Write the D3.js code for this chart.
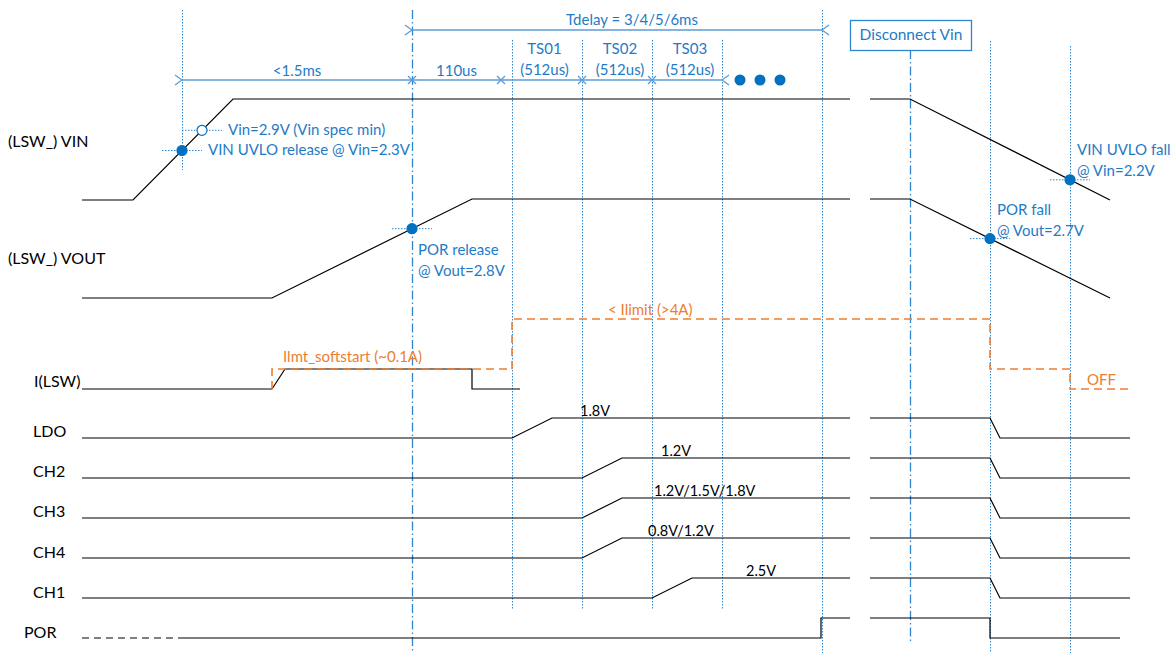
<!DOCTYPE html>
<html><head><meta charset="utf-8">
<script src="https://cdn.jsdelivr.net/npm/d3@7"></script>
<style>
body{margin:0;background:#fff;}
svg{display:block;font-family:Lato,"Noto Sans",sans-serif;}
</style>
</head><body>
<svg id="chart" width="1174" height="653"></svg>
<script>
// ================= DATA =================
// signal names (row labels)
const signalNames = ["(LSW_) VIN","(LSW_) VOUT","I(LSW)","LDO","CH2","CH3","CH4","CH1","POR"];
// waveforms: arrays of segments; each point = [time unit, level (0 low .. 1 high)]
const vinWave  = [[[0,0],[5.1,0],[15.1,1],[76.8,1]], [[78.8,1],[82.8,1],[102.8,0]]];
const voutWave = [[[0,0],[19,0],[39,1],[76.8,1]], [[78.8,1],[82.8,1],[102.8,0]]];
const ilswWave = [[[0,0],[19,0],[20.3,1],[39,1],[39,0],[43.8,0]]];
const ilimWave = [[[19,0],[19,1],[43,1],[43,3.5],[90.8,3.5],[90.8,1],[98.8,1],[98.8,0],[104.8,0]]];
const ldoWave  = [[[0,0],[43,0],[47,1],[76.8,1]], [[78.8,1],[90.8,1],[91.8,0],[104.8,0]]];
const ch2Wave  = [[[0,0],[50,0],[54,1],[76.8,1]], [[78.8,1],[90.8,1],[91.8,0],[104.8,0]]];
const ch3Wave  = [[[0,0],[50,0],[54,1],[76.8,1]], [[78.8,1],[90.8,1],[91.8,0],[104.8,0]]];
const ch4Wave  = [[[0,0],[50,0],[54,1],[76.8,1]], [[78.8,1],[90.8,1],[91.8,0],[104.8,0]]];
const ch1Wave  = [[[0,0],[57,0],[61,1],[76.8,1]], [[78.8,1],[90.8,1],[91.8,0],[104.8,0]]];
const porDashed = [[[0,0],[10.3,0]]];
const porWave  = [[[10.3,0],[73.9,0],[73.9,1],[76.8,1]], [[78.8,1],[90.8,1],[90.8,0],[103.8,0]]];
// output voltage labels
const voltLabels = ["1.8V","1.2V","1.2V/1.5V/1.8V","0.8V/1.2V","2.5V"];
const voltLabelTimes = [49.8,57.9,57.2,56.6,66.4];
// timing markers (time units)
const dottedTimes = [10,43,50,57,64,74,90.8,98.8];
const dashDotTimes = [33,82.8];
// top dimension arrows
const segTimes = [10,33,41.9,50,57,64];
const segLabels = ["<1.5ms","110us","TS01\n(512us)","TS02\n(512us)","TS03\n(512us)"];
const tdelayRange = [33,74];
const tdelayLabel = "Tdelay = 3/4/5/6ms";
const ellipsisTimes = [65.8,67.8,69.8];
// annotation points: [time, row, level, filled]
const annoPoints = [[10,0,0.49,true],[12,0,0.69,false],[33,1,0.7,true],[90.8,1,0.6,true],[98.8,0,0.2,true]];
const annoTexts = [
  ["Vin=2.9V (Vin spec min)"],
  ["VIN UVLO release @ Vin=2.3V"],
  ["POR release","@ Vout=2.8V"],
  ["POR fall","@ Vout=2.7V"],
  ["VIN UVLO fall","@ Vin=2.2V"]
];
const orangeLabels = ["Ilmt_softstart (~0.1A)","< Ilimit (>4A)","OFF"];
const boxLabel = "Disconnect Vin";

// ================= LAYOUT =================
const W = 1174, H = 653;
const x = d3.scaleLinear().domain([0,100]).range([82,1082]);
const rowLow = [200,298,389,438,478,518,558,598,638];
const rowAmp = [101,99,20,20,20,20,20,20,20];
const labelX = [8,8,34,33,33,33,33,33,24];
const labelY = [141,258,381,431,471,511,552,592,632];
const yRow = i => d3.scaleLinear().domain([0,1]).range([rowLow[i], rowLow[i]-rowAmp[i]]);
const BLUE_TXT = "#1f7bc6", BLUE_LN = "#5b9bd5", BLUE_DOT = "#0070c0", BLUE_V = "#2e86d0", ORANGE = "#ed7d31";
const FS = 15, FS_ROW = 16, FS_V = 14.5;

const svg = d3.select("#chart");
const defs = svg.append("defs");
defs.append("marker").attr("id","chev").attr("viewBox","-1 -6 10 12")
  .attr("refX",0).attr("refY",0).attr("markerWidth",10).attr("markerHeight",12)
  .attr("markerUnits","userSpaceOnUse").attr("orient","auto-start-reverse")
  .append("path").attr("d","M7,-5 L0,0 L7,5").attr("fill","none").attr("stroke",BLUE_LN).attr("stroke-width",1.3);

const line = (i) => d3.line().x(d=>x(d[0])).y(d=>yRow(i)(d[1]));

// vertical dotted markers
const dottedY = [[10,170],[40,610],[40,610],[40,610],[40,610],[10,653],[41,653],[46,653]];
svg.append("g").selectAll("line").data(dottedTimes).join("line")
  .attr("x1",d=>Math.round(x(d))+0.5).attr("x2",d=>Math.round(x(d))+0.5)
  .attr("y1",(d,i)=>dottedY[i][0]).attr("y2",(d,i)=>dottedY[i][1])
  .attr("stroke",BLUE_V).attr("stroke-width",1).attr("stroke-dasharray","1.5,1.5");
const dashDotY = [[10,653],[50,642]];
svg.append("g").selectAll("line").data(dashDotTimes).join("line")
  .attr("x1",d=>Math.round(x(d))+0.5).attr("x2",d=>Math.round(x(d))+0.5)
  .attr("y1",(d,i)=>dashDotY[i][0]).attr("y2",(d,i)=>dashDotY[i][1])
  .attr("stroke",BLUE_V).attr("stroke-width",1.3).attr("stroke-dasharray","9,3,1.5,3");

// waveforms
const waves = [vinWave,voutWave,ilswWave,ldoWave,ch2Wave,ch3Wave,ch4Wave,ch1Wave,porWave];
const gw = svg.append("g").attr("fill","none").attr("stroke","#000").attr("stroke-width",1.2);
waves.forEach((segs,i)=>{
  segs.forEach(s=>gw.append("path").attr("d",line(i)(s)));
});
porDashed.forEach(s=>gw.append("path").attr("d",line(8)(s)).attr("stroke-dasharray","7,5"));
// orange current limit
ilimWave.forEach(s=>svg.append("path").attr("d",line(2)(s)).attr("fill","none")
  .attr("stroke",ORANGE).attr("stroke-width",1.6).attr("stroke-dasharray","8,5"));

// row labels
svg.append("g").selectAll("text").data(signalNames).join("text")
  .attr("x",(d,i)=>labelX[i]).attr("y",(d,i)=>labelY[i]).attr("dy","0.35em")
  .attr("font-size",FS_ROW).attr("fill","#000").text(d=>d);

// voltage labels
const vRows = [3,4,5,6,7];
svg.append("g").selectAll("text").data(voltLabels).join("text")
  .attr("x",(d,i)=>x(voltLabelTimes[i])).attr("y",(d,i)=>rowLow[vRows[i]]-27).attr("dy","0.35em")
  .attr("font-size",FS_V).attr("fill","#000").text(d=>d);

// top dimension line (y=80)
const ga = svg.append("g");
ga.append("line").attr("x1",x(segTimes[0])).attr("x2",x(segTimes[segTimes.length-1]))
  .attr("y1",80).attr("y2",80).attr("stroke",BLUE_LN).attr("stroke-width",1.6)
  .attr("marker-start","url(#chev)").attr("marker-end","url(#chev)");
segTimes.slice(1,-1).forEach(t=>{
  const cx = x(t);
  ga.append("path").attr("d",`M${cx-4},76 L${cx+4},84 M${cx-4},84 L${cx+4},76`)
    .attr("stroke",BLUE_LN).attr("stroke-width",1.3);
});
segLabels.forEach((lab,i)=>{
  const cx = (x(segTimes[i])+x(segTimes[i+1]))/2 + (i>=2?3:0);
  const parts = lab.split("\n");
  parts.forEach((p,k)=>{
    ga.append("text").attr("x",cx).attr("y",parts.length===1?71:49+k*21).attr("dy","0.35em")
      .attr("text-anchor","middle").attr("font-size",FS).attr("fill",BLUE_TXT).text(p);
  });
});
// Tdelay arrow
ga.append("line").attr("x1",x(tdelayRange[0])).attr("x2",x(tdelayRange[1]))
  .attr("y1",30).attr("y2",30).attr("stroke",BLUE_LN).attr("stroke-width",1.6)
  .attr("marker-start","url(#chev)").attr("marker-end","url(#chev)");
ga.append("text").attr("x",(x(tdelayRange[0])+x(tdelayRange[1]))/2+15).attr("y",20).attr("dy","0.35em")
  .attr("text-anchor","middle").attr("font-size",FS).attr("fill",BLUE_TXT).text(tdelayLabel);
// ellipsis dots
ga.selectAll("circle").data(ellipsisTimes).join("circle")
  .attr("cx",d=>x(d)).attr("cy",80).attr("r",5.5).attr("fill",BLUE_DOT);

// Disconnect Vin box
const bx = x(dashDotTimes[1]);
svg.append("rect").attr("x",850.5).attr("y",20.5).attr("width",121).attr("height",30)
  .attr("fill","#fff").attr("stroke",BLUE_V).attr("stroke-width",1.3);
svg.append("text").attr("x",bx+1).attr("y",35).attr("dy","0.35em").attr("text-anchor","middle")
  .attr("font-size",FS+0.5).attr("fill",BLUE_TXT).text(boxLabel);

// annotation points
const gp = svg.append("g");
annoPoints.forEach(([t,row,lv,filled])=>{
  const cx = x(t), cy = yRow(row)(lv);
  gp.append("line").attr("x1",cx-20).attr("x2",cx+20).attr("y1",cy).attr("y2",cy)
    .attr("stroke",BLUE_V).attr("stroke-width",1).attr("stroke-dasharray","1.5,1.5");
  gp.append("circle").attr("cx",cx).attr("cy",cy).attr("r",5)
    .attr("fill",filled?BLUE_DOT:"#fff").attr("stroke",BLUE_DOT).attr("stroke-width",1.2);
});
const annoPos = [[228,130],[208,150],[418,250],[997,210],[1077,150]];
annoTexts.forEach((lines,i)=>{
  lines.forEach((l,k)=>{
    gp.append("text").attr("x",annoPos[i][0]).attr("y",annoPos[i][1]+k*20.5).attr("dy","0.35em")
      .attr("font-size",FS).attr("fill",BLUE_TXT).text(l);
  });
});

// orange labels
const orangePos = [[283,357],[608,310],[1087,380]];
svg.append("g").selectAll("text").data(orangeLabels).join("text")
  .attr("x",(d,i)=>orangePos[i][0]).attr("y",(d,i)=>orangePos[i][1]).attr("dy","0.35em")
  .attr("font-size",FS).attr("fill",ORANGE).text(d=>d);
</script>
</body></html>
